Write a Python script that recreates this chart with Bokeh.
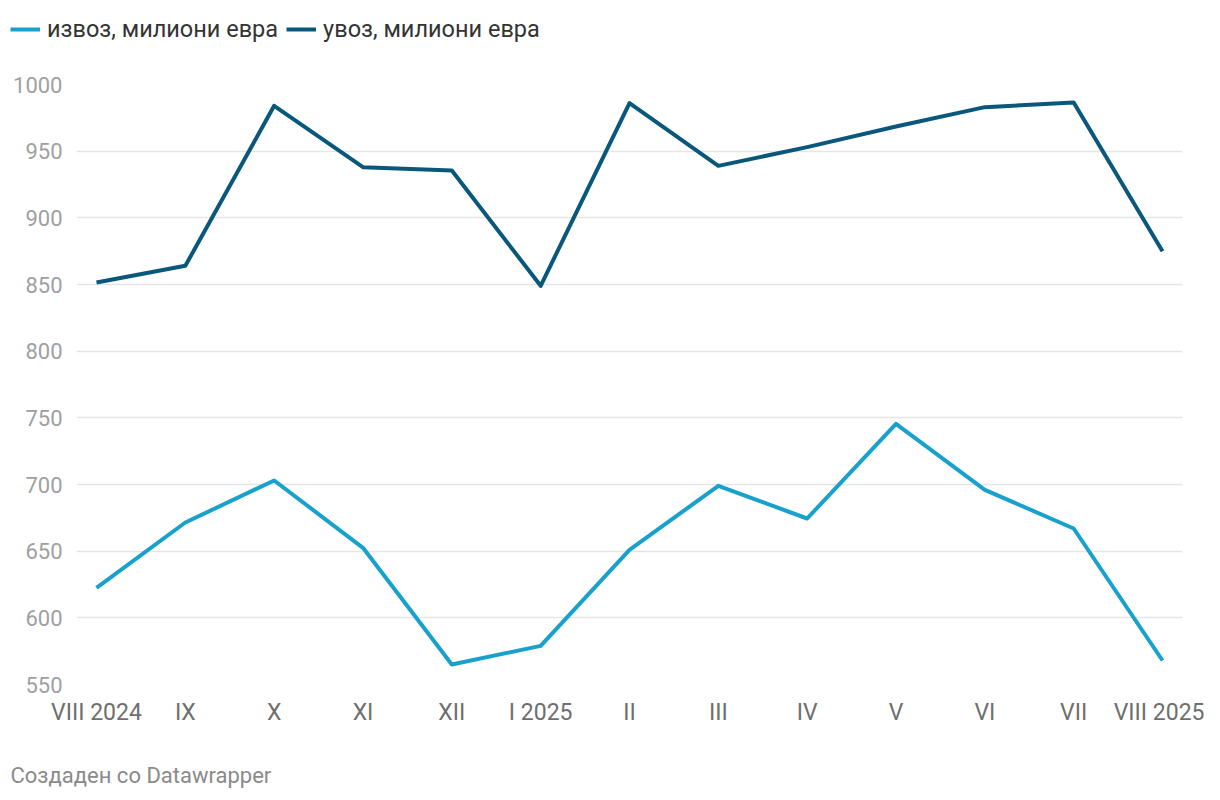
from bokeh.plotting import figure
from bokeh.models import ColumnDataSource, Legend, LegendItem, FixedTicker, Label, Range1d
from bokeh.embed import file_html
from bokeh.resources import INLINE

months = ["VIII 2024", "IX", "X", "XI", "XII", "I 2025", "II", "III", "IV", "V", "VI", "VII", "VIII 2025"]
export_vals = [622.5, 671.5, 703, 652.5, 565, 579, 651, 699, 674.5, 745.5, 696, 667, 568]
import_vals = [851.5, 864, 984, 938, 935.5, 849, 986, 939, 953, 968.5, 983, 986.5, 875]
y_ticks = [550, 600, 650, 700, 750, 800, 850, 900, 950, 1000]
series_names = ["извоз, милиони евра", "увоз, милиони евра"]

FONT = "Roboto"
LIGHT = "#18a1cd"
DARK = "#09587c"
LW = 4

# ---- legend strip ----
lg = figure(width=1204, height=60, output_backend="svg", toolbar_location=None,
            x_range=Range1d(0, 1), y_range=Range1d(0, 1),
            x_axis_location=None, y_axis_location=None,
            min_border_left=0, min_border_right=0, min_border_top=0, min_border_bottom=0)
lg.grid.visible = False
lg.outline_line_color = None
nan = float("nan")
empty = ColumnDataSource(dict(x=[nan], y=[nan]))
d_exp = lg.line("x", "y", source=empty, line_color=LIGHT, line_width=LW)
d_imp = lg.line("x", "y", source=empty, line_color=DARK, line_width=LW)
legend = Legend(items=[LegendItem(label=series_names[0], renderers=[d_exp]),
                       LegendItem(label=series_names[1], renderers=[d_imp])],
                orientation="horizontal", location=(10, 17),
                label_text_font=FONT, label_text_font_size="23.5px", label_text_color="#333333",
                glyph_width=30, glyph_height=24, label_height=24, label_standoff=7,
                spacing=8, padding=0, margin=0,
                border_line_color=None, background_fill_alpha=0)
lg.add_layout(legend, "center")

# ---- main chart ----
x = list(range(len(months)))
src = ColumnDataSource(dict(x=x, exp=export_vals, imp=import_vals))

p = figure(width=1204, height=730, output_backend="svg", toolbar_location=None,
           x_range=Range1d(-0.225, len(months) - 1 + 0.225), y_range=Range1d(550, 1000),
           min_border_left=76, min_border_right=22, min_border_top=24, min_border_bottom=106)
p.outline_line_color = None

p.line("x", "exp", source=src, line_color=LIGHT, line_width=LW, line_join="round")
p.line("x", "imp", source=src, line_color=DARK, line_width=LW, line_join="round")

p.xgrid.visible = False
p.ygrid.grid_line_color = "#e5e5e5"
p.ygrid.grid_line_width = 1.5
p.yaxis.ticker = FixedTicker(ticks=y_ticks)
p.xaxis.ticker = FixedTicker(ticks=x)
p.xaxis.major_label_overrides = {i: m for i, m in enumerate(months)}

for ax in (p.xaxis[0], p.yaxis[0]):
    ax.axis_line_color = None
    ax.major_tick_line_color = None
    ax.minor_tick_line_color = None
    ax.major_label_text_font = FONT
p.yaxis.major_label_text_font_size = "22px"
p.xaxis.major_label_text_font_size = "23px"
p.yaxis.major_label_standoff = 8
p.yaxis.major_label_text_color = "#a0a0a0"
p.xaxis.major_label_text_color = "#6e6e6e"
p.xaxis.major_label_standoff = 8

footer = Label(x=-66, y=-34, x_units="screen", y_units="screen", text="Создаден со Datawrapper",
               text_font=FONT, text_font_size="22px", text_color="#8a8a8a")
p.add_layout(footer, "below")

open("out.html", "w").write(file_html([lg, p], INLINE))
